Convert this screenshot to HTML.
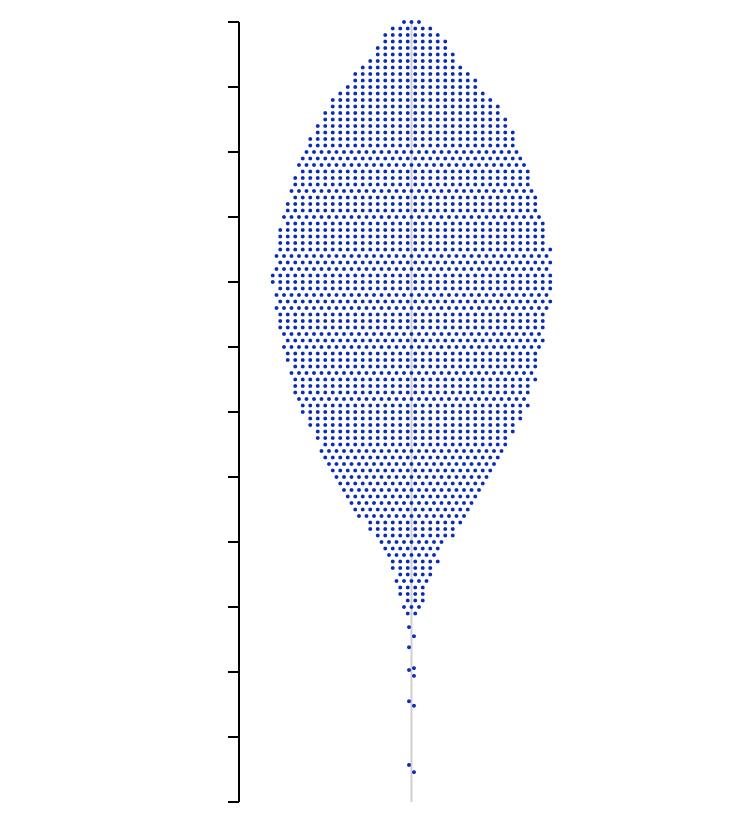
<!DOCTYPE html>
<html><head><meta charset="utf-8"><style>
html,body{margin:0;padding:0;background:#fff;width:750px;height:820px;overflow:hidden}
svg{display:block}
</style></head><body>
<svg id="chart" width="750" height="820">
<g id="axis"></g>
<line x1="411.5" y1="22" x2="411.5" y2="802" stroke="#cfcfcf" stroke-width="2"/>
<g id="dots"></g>
</svg>
<script>
const tickValues=[0,1,2,3,4,5,6,7,8,9,10,11,12];
const binValues=[12.0,11.9,11.8,11.7,11.6,11.5,11.4,11.3,11.2,11.1,11.0,10.9,10.8,10.7,10.6,10.5,10.4,10.3,10.2,10.1,10.0,9.9,9.8,9.7,9.6,9.5,9.4,9.3,9.2,9.1,9.0,8.9,8.8,8.7,8.6,8.5,8.4,8.3,8.2,8.1,8.0,7.9,7.8,7.7,7.6,7.5,7.4,7.3,7.2,7.1,7.0,6.9,6.8,6.7,6.6,6.5,6.4,6.3,6.2,6.1,6.0,5.9,5.8,5.7,5.6,5.5,5.4,5.3,5.2,5.1,5.0,4.9,4.8,4.7,4.6,4.5,4.4,4.3,4.2,4.1,4.0,3.9,3.8,3.7,3.6,3.5,3.4,3.3,3.2,3.1,3.0,2.9];
const binCounts=[3,6,8,9,10,11,12,14,16,17,18,20,22,23,24,25,26,27,28,28,29,30,31,31,32,32,33,33,34,34,35,35,36,36,36,37,37,37,37,38,38,37,37,37,37,36,36,36,35,35,35,34,34,33,33,33,32,32,31,31,30,29,28,27,26,25,25,24,23,22,21,20,19,18,17,16,15,13,12,11,9,8,7,7,6,5,5,4,4,3,3,2];
const tailValues=[2.69,2.55,2.38,2.06,2.03,1.94,1.55,1.48,0.57,0.46];
const NS='http://www.w3.org/2000/svg';
const yScale=v=>802-v*65;
const cx=411.5, dx=7.5, R=1.9, COLOR='#0b2db4';
const axis=document.getElementById('axis');
const al=document.createElementNS(NS,'line');
al.setAttribute('x1',239);al.setAttribute('x2',239);al.setAttribute('y1',yScale(12));al.setAttribute('y2',yScale(0));
al.setAttribute('stroke','#000');al.setAttribute('stroke-width','2');


axis.appendChild(al);
tickValues.forEach(t=>{
 const l=document.createElementNS(NS,'line');
 l.setAttribute('x1',228);l.setAttribute('x2',239);l.setAttribute('y1',yScale(t));l.setAttribute('y2',yScale(t));
 l.setAttribute('stroke','#000');l.setAttribute('stroke-width','2');
 
 
 axis.appendChild(l);
});
const dots=document.getElementById('dots');
function dot(x,y){
 const c=document.createElementNS(NS,'circle');
 c.setAttribute('cx',x);c.setAttribute('cy',y);c.setAttribute('r',R);c.setAttribute('fill',COLOR);
 
 
 dots.appendChild(c);
}
binValues.forEach((v,i)=>{
 const n=binCounts[i];
 const shift=(i%2)?dx/2:0;
 for(let k=0;k<n;k++){
  const x=cx+(k-(n-1)/2)*dx+shift*((n%2)?1:0)-(i%2&&!(n%2)?0:0);
  dot(x,yScale(v));
 }
});
tailValues.forEach((v,i)=>{
 dot(cx+((i%2)?2.5:-2.5),yScale(v));
});
</script>
</body></html>
